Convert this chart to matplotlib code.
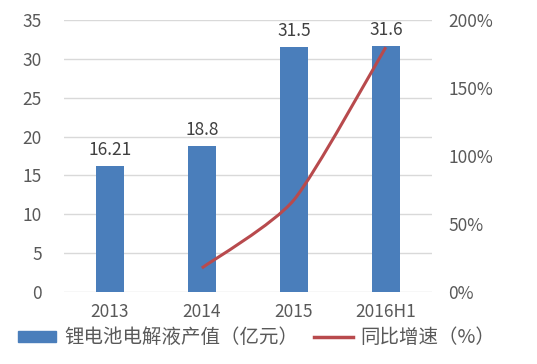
import numpy as np
import matplotlib.pyplot as plt
from matplotlib.path import Path
from matplotlib.patches import PathPatch, Patch
from matplotlib.lines import Line2D

plt.rcParams['font.family'] = ['Noto Sans CJK SC', 'DejaVu Sans']

years = ['2013', '2014', '2015', '2016H1']
output = [16.21, 18.8, 31.5, 31.6]          # 亿元
growth = [None, 17.6, 67.6, 180.0]           # %
bar_labels = ['16.21', '18.8', '31.5', '31.6']

bar_color = '#4A7EBB'
line_color = '#B84A4D'
text_color = '#595959'

fig = plt.figure(figsize=(5.37, 3.64), dpi=100)
ax = fig.add_axes([0.119, 0.198, 0.685, 0.747])
x = np.arange(len(years))

ax.bar(x, output, width=0.3, color=bar_color, zorder=2)
for xi, v, lab in zip(x, output, bar_labels):
    ax.text(xi, v + 0.9, lab, ha='center', va='bottom', fontsize=12.5, color='#404040')

ax.set_xlim(-0.5, len(years) - 0.5)
ax.set_ylim(0, 35)
ax.set_yticks(range(0, 36, 5))
ax.set_xticks(x)
ax.set_xticklabels(years)
ax.grid(axis='y', color='#D9D9D9', linewidth=1)
ax.set_axisbelow(True)
for s in ax.spines.values():
    s.set_visible(False)
ax.tick_params(length=0, labelsize=12.5, colors=text_color, pad=8)
ax.tick_params(axis='y', pad=16)

ax2 = ax.twinx()
ax2.set_ylim(0, 200)
ax2.set_yticks(range(0, 201, 50))
ax2.set_yticklabels([f'{v}%' for v in range(0, 201, 50)])
for s in ax2.spines.values():
    s.set_visible(False)
ax2.tick_params(length=0, labelsize=12.5, colors=text_color, pad=12)

# smoothed growth line through the points
gx = [xi for xi, g in zip(x, growth) if g is not None]
gy = [g for g in growth if g is not None]
pts = np.column_stack([gx, gy]).astype(float)
verts = [tuple(pts[0])]
codes = [Path.MOVETO]
for i in range(len(pts) - 1):
    p0 = pts[i - 1] if i > 0 else pts[i]
    p1, p2 = pts[i], pts[i + 1]
    p3 = pts[i + 2] if i + 2 < len(pts) else pts[i + 1]
    c1 = p1 + (p2 - p0) / 9
    c2 = p2 - (p3 - p1) / 9
    verts += [tuple(c1), tuple(c2), tuple(p2)]
    codes += [Path.CURVE4] * 3
ax2.add_patch(PathPatch(Path(verts, codes), facecolor='none',
                        edgecolor=line_color, linewidth=2.2, zorder=3))

handles = [Patch(color=bar_color), Line2D([0], [0], color=line_color, linewidth=2.5)]
fig.legend(handles, ['锂电池电解液产值（亿元）', '同比增速（%）'],
           loc='lower left', bbox_to_anchor=(0.0, -0.005), ncol=2, frameon=False,
           fontsize=14, labelcolor=text_color, handlelength=2.0, handleheight=0.5,
           columnspacing=0.8, handletextpad=0.4)

fig.savefig('out.png', dpi=100)
